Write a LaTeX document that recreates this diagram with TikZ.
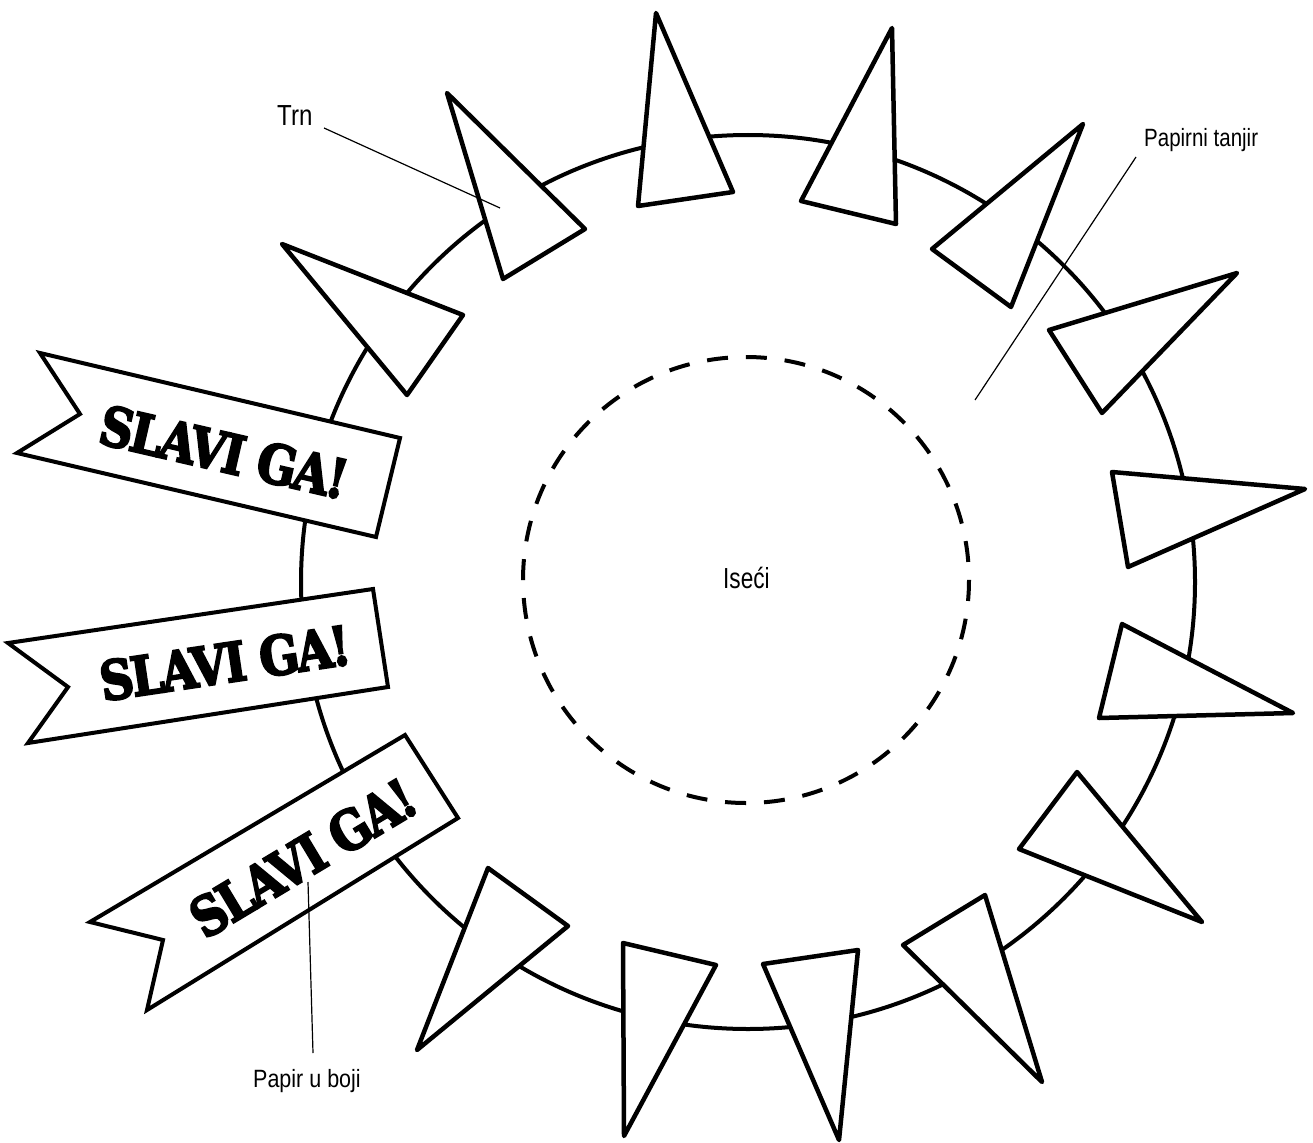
\documentclass[tikz,border=0pt]{standalone}
\usepackage{fontspec}
\usepackage{graphicx}
\setmainfont{Liberation Sans}
\newfontfamily\bannerfont{DejaVu Serif}[BoldFeatures={FakeBold=4,LetterSpace=-5}]
\tikzset{
  plate/.style={line width=4pt},
  cutline/.style={line width=4pt, dash pattern=on 21pt off 17.92pt},
  spike/.style={line width=4.5pt, fill=white, line join=round},
  flagshape/.style={line width=4pt, fill=white, line join=miter},
  flagtext/.style={font=\bannerfont\bfseries\fontsize{54}{54}\selectfont, inner sep=0pt},
  lblbig/.style={font=\fontsize{29}{29}\selectfont, inner sep=0pt},
  lblsmall/.style={font=\fontsize{25}{25}\selectfont, inner sep=0pt},
  leader/.style={line width=1.2pt},
}
\begin{document}
\begin{tikzpicture}[x=1pt,y=-1pt]
\useasboundingbox[fill=white] (0,0) rectangle (1313,1142);
% plate and cut line
\coordinate (c) at (748,582);
\draw[plate] (c) circle[radius=447];
\draw[cutline] (746,580) circle[radius=223];
% thorns
\draw[spike] (282,244) -- (463,315) -- (407,395) -- cycle;
\draw[spike] (447,93) -- (585,229) -- (503,279) -- cycle;
\draw[spike] (656,13) -- (733,192) -- (638,206) -- cycle;
\draw[spike] (892,28) -- (896,224) -- (801,201) -- cycle;
\draw[spike] (1083,124) -- (1011,307) -- (932,249) -- cycle;
\draw[spike] (1237,273) -- (1102,413) -- (1049,330) -- cycle;
\draw[spike] (1112,472) -- (1305,489) -- (1128,567) -- cycle;
\draw[spike] (1122,624) -- (1293,713) -- (1099,718) -- cycle;
\draw[spike] (1077,772) -- (1202,922) -- (1019,849) -- cycle;
\draw[spike] (985,895) -- (1042,1082) -- (903,945) -- cycle;
\draw[spike] (488,868) -- (568,926) -- (417,1050) -- cycle;
\draw[spike] (623,943) -- (716,965) -- (624,1136) -- cycle;
\draw[spike] (763,964) -- (858,950) -- (839,1140) -- cycle;
% banners
\draw[flagshape] (40,353) -- (400,438) -- (376,537) -- (17,453) -- (80,414) -- cycle;
\draw[flagshape] (8,643) -- (373,589) -- (388,687) -- (28,743) -- (68,687) -- cycle;
\draw[flagshape] (90,922) -- (405,735) -- (458,818) -- (147,1010) -- (163,940) -- cycle;
\node[flagtext, rotate=-13] (f1) at (224,452) {\scalebox{0.86}[1]{SLAVI GA!}};
\node[flagtext, rotate=8.5] (f2) at (225,663) {\scalebox{0.86}[1]{SLAVI GA!}};
\node[flagtext, rotate=31] (f3) at (303,858) {\scalebox{0.86}[1]{SLAVI GA!}};
% labels
\node[lblbig, anchor=base west] (trn) at (277,126) {\scalebox{0.83}[1]{Trn}};
\node[lblsmall, anchor=base west] (tanjir) at (1144,147) {\scalebox{0.82}[1]{Papirni tanjir}};
\node[lblsmall, anchor=base west] (papir) at (253,1087) {\scalebox{0.86}[1]{Papir u boji}};
\node[lblbig, anchor=base west] (iseci) at (723,588) {\scalebox{0.78}[1]{Iseći}};
% leaders
\coordinate (trnA) at (324,128);
\coordinate (trnB) at (500,208);
\coordinate (tanA) at (1136,157);
\coordinate (tanB) at (975,400);
\coordinate (papA) at (313,1053);
\coordinate (papB) at (308,882);
\draw[leader] (trnA) -- (trnB);
\draw[leader] (tanA) -- (tanB);
\draw[leader] (papA) -- (papB);
\end{tikzpicture}
\end{document}
